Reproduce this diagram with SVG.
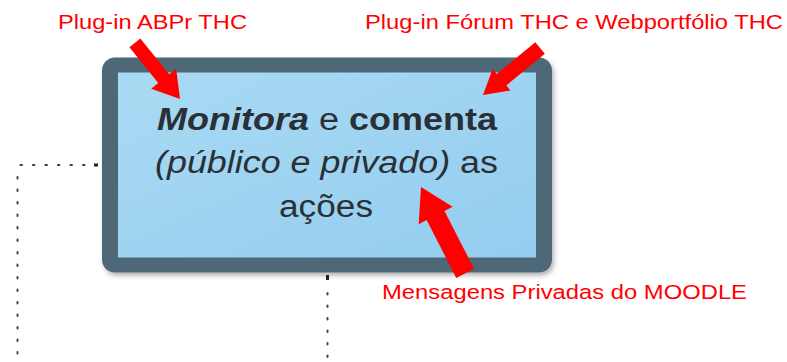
<svg xmlns="http://www.w3.org/2000/svg" width="787" height="362" viewBox="0 0 787 362">
<defs>
<linearGradient id="fillg" x1="0" y1="0" x2="1" y2="1">
<stop offset="0" stop-color="#a9daf3"/>
<stop offset="1" stop-color="#94cdef"/>
</linearGradient>
<filter id="sh" x="-10%" y="-10%" width="125%" height="130%">
<feDropShadow dx="2" dy="3" stdDeviation="2.5" flood-color="#000" flood-opacity="0.3"/>
</filter>
<style>
.lbl{font-family:"Liberation Sans",Arial,sans-serif;font-size:20.5px;fill:#ff0000}
.bx{font-family:"Liberation Sans",Arial,sans-serif;font-size:31px;fill:#2a3036;text-anchor:middle}
.dot{fill:none;stroke:#444;stroke-width:2;stroke-dasharray:1.6 10.9;stroke-linecap:round}
.arr{fill:#ff0000}
</style>
</defs>
<g id="connectors">
<line class="dot" x1="97" y1="165" x2="19" y2="165"/>
<line class="dot" x1="17.5" y1="177" x2="17.5" y2="362"/>
<rect x="94" y="163.5" width="4" height="3" fill="#222"/>
<line class="dot" x1="327.5" y1="293" x2="327.5" y2="362"/>
<rect x="326" y="275" width="3" height="5" fill="#222"/>
</g>
<g id="node-monitora">
<rect x="102" y="57.5" width="450" height="215" rx="13" fill="#4f6878" filter="url(#sh)"/>
<rect x="118" y="72.5" width="418" height="185" fill="url(#fillg)"/>
<text class="bx" x="327" y="130" textLength="340" lengthAdjust="spacingAndGlyphs"><tspan font-weight="bold" font-style="italic">Monitora</tspan> e <tspan font-weight="bold">comenta</tspan></text>
<text class="bx" x="326.5" y="173" textLength="343" lengthAdjust="spacingAndGlyphs"><tspan font-style="italic">(público e privado)</tspan> as</text>
<text class="bx" x="326" y="217" textLength="94" lengthAdjust="spacingAndGlyphs">ações</text>
</g>
<g id="arrows">
<path class="arr" transform="translate(180,99) rotate(51.2)" d="M0,0 L-26,-16 L-26,-7 L-72,-7 L-72,7 L-26,7 L-26,16 Z"/>
<path class="arr" transform="translate(483,95) rotate(140.5)" d="M0,0 L-24,-14 L-24,-7.5 L-74,-7.5 L-74,7.5 L-24,7.5 L-24,14 Z"/>
<path class="arr" transform="translate(421,187) rotate(-117.1)" d="M0,0 L-32,-19 L-32,-10 L-97,-10 L-97,10 L-32,10 L-32,19 Z"/>
</g>
<g id="labels">
<text class="lbl" x="58" y="29" textLength="189" lengthAdjust="spacingAndGlyphs">Plug-in ABPr THC</text>
<text class="lbl" x="365" y="29" textLength="418" lengthAdjust="spacingAndGlyphs">Plug-in Fórum THC e Webportfólio THC</text>
<text class="lbl" x="382" y="299" textLength="365" lengthAdjust="spacingAndGlyphs">Mensagens Privadas do MOODLE</text>
</g>
</svg>
